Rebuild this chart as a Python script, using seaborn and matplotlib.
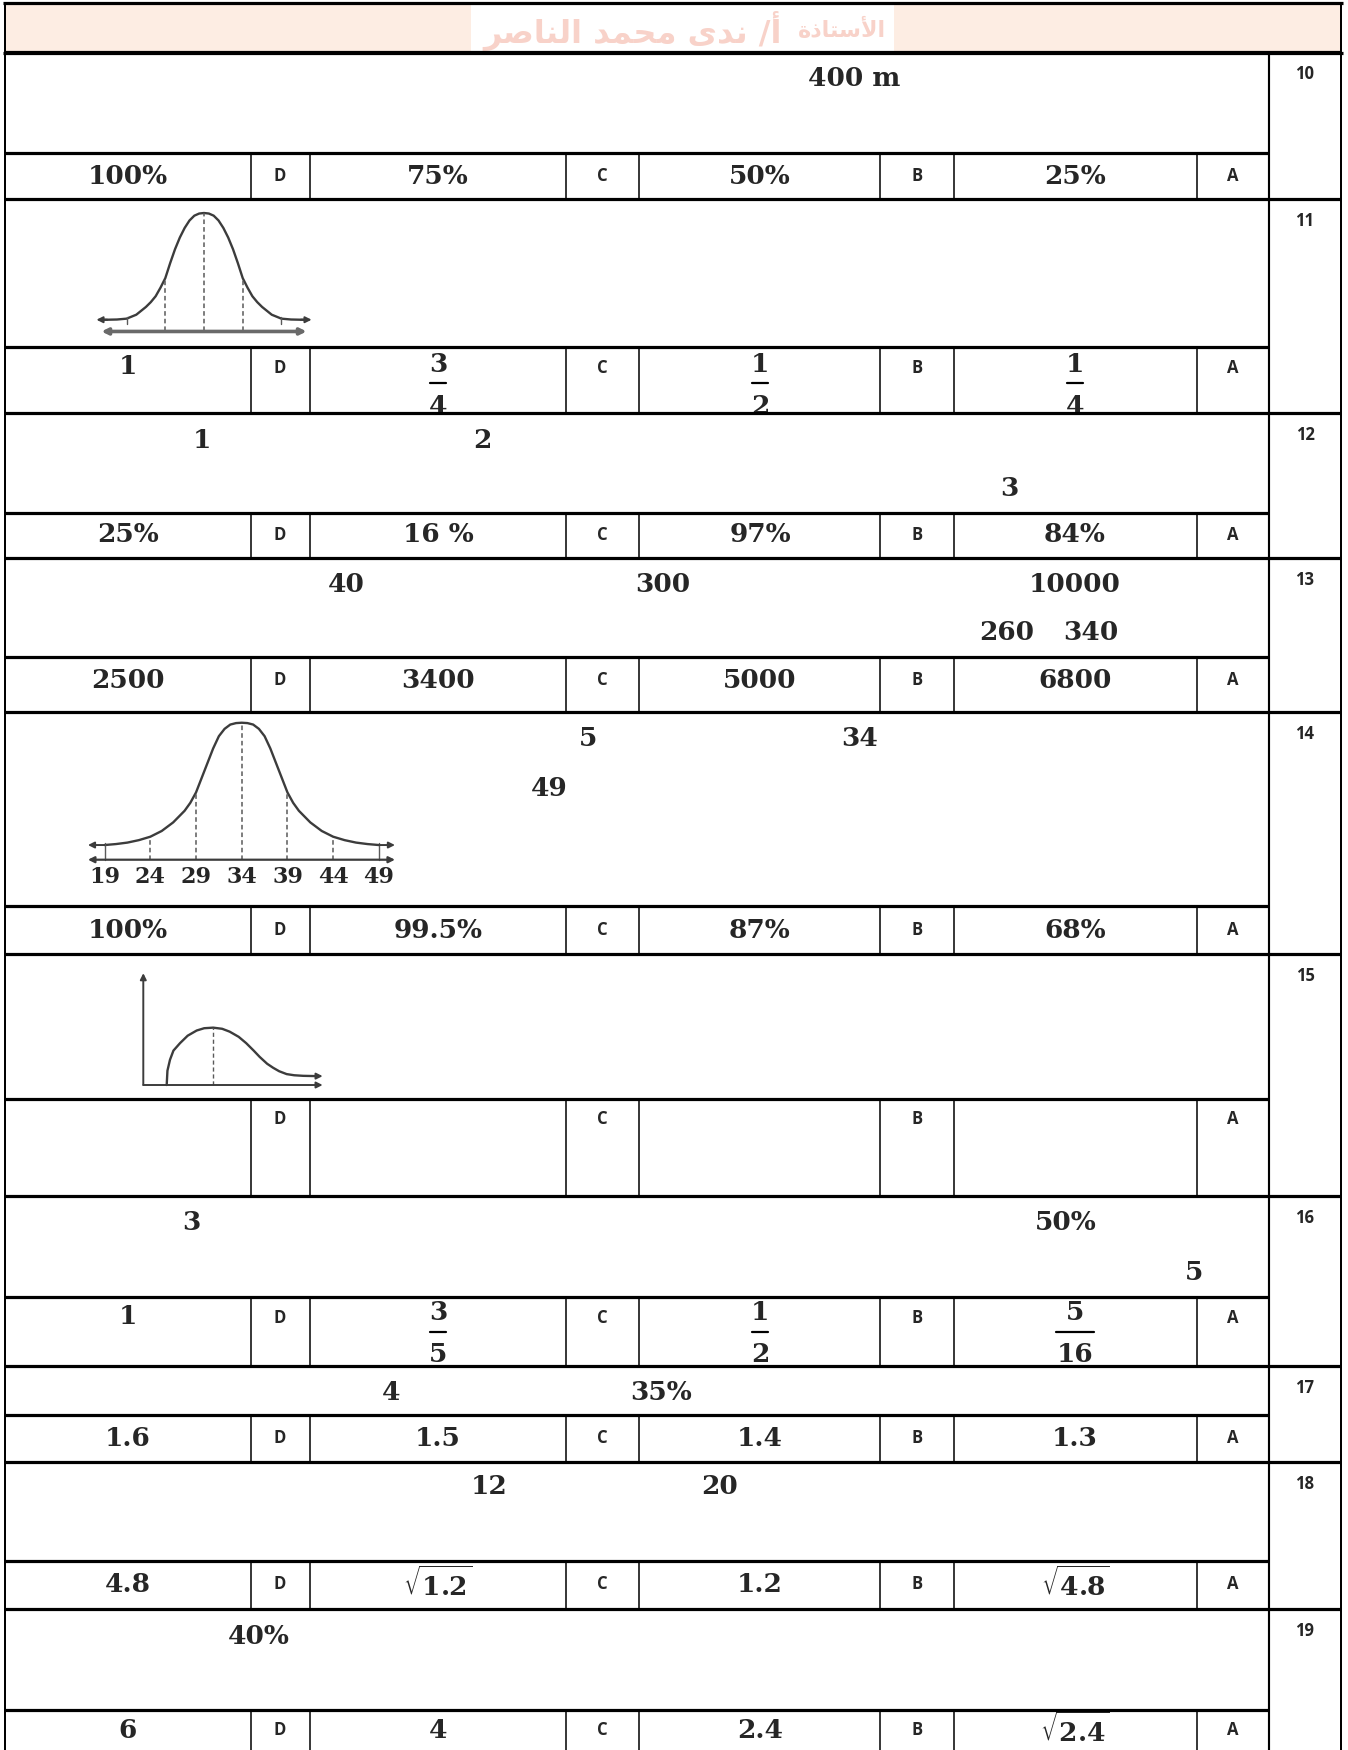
import numpy as np
import pandas as pd
import matplotlib
matplotlib.use("Agg")
import matplotlib.pyplot as plt
from matplotlib.patches import Rectangle
import seaborn as sns

sns.set_theme(style="white")
plt.rcParams["font.family"] = ["DejaVu Serif"]
plt.rcParams["mathtext.fontset"] = "dejavuserif"

# ---------------- data ----------------
question_numbers = ["10", "11", "12", "13", "14", "15", "16", "17", "18", "19"]
answer_letters = ["D", "C", "B", "A"]

ans_10 = ["100%", "75%", "50%", "25%"]
ans_11 = ["1", "3/4", "1/2", "1/4"]
ans_12 = ["25%", "16 %", "97%", "84%"]
ans_13 = ["2500", "3400", "5000", "6800"]
ans_14 = ["100%", "99.5%", "87%", "68%"]
ans_15 = ["", "", "", ""]
ans_16 = ["1", "3/5", "1/2", "5/16"]
ans_17 = ["1.6", "1.5", "1.4", "1.3"]
ans_18 = ["4.8", "√1.2", "1.2", "√4.8"]
ans_19 = ["6", "4", "2.4", "√2.4"]
all_answers = [ans_10, ans_11, ans_12, ans_13, ans_14, ans_15, ans_16, ans_17, ans_18, ans_19]

# numbers that remain visible inside the question texts
q_texts = ["400 m", "1", "2", "3", "40", "300", "10000", "260", "340",
           "5", "34", "49", "3", "50%", "5", "4", "35%", "12", "20", "40%"]

# header (Arabic, written in presentation forms, visual order)
title_main = "\ufeae\ufebb\ufe8e\ufee8\ufedf\ufe8d \ufeaa\ufee4\ufea4\ufee3 \ufeef\ufeaa\ufee7 /\ufe83"
title_prefix = "\ufe93\ufeab\ufe8e\ufe98\ufeb3\ufef7\ufe8d"

# bell curve of question 11 (x in standard deviations, relative height)
bell11_x = [-2.65, -2.5, -2.25, -2.0, -1.75, -1.5, -1.375, -1.25, -1.125, -1.0, -0.875, -0.75,
            -0.625, -0.5, -0.375, -0.25, -0.125, 0.0, 0.125, 0.25, 0.375, 0.5, 0.625, 0.75,
            0.875, 1.0, 1.125, 1.25, 1.375, 1.5, 1.75, 2.0, 2.25, 2.5, 2.65]
bell11_y = [0.0, 0.0, 0.002, 0.01, 0.047, 0.12, 0.165, 0.22, 0.30, 0.39, 0.53, 0.66,
            0.77, 0.86, 0.93, 0.975, 0.995, 1.0, 0.995, 0.975, 0.93, 0.86, 0.77, 0.66,
            0.53, 0.39, 0.30, 0.22, 0.165, 0.12, 0.047, 0.01, 0.002, 0.0, 0.0]

# bell curve of question 14 (x in data values)
bell14_x = [19, 20.25, 21.5, 22.75, 24, 25.25, 26.5, 27.75, 28.375, 29, 29.625, 30.25, 30.875,
            31.5, 32.125, 32.75, 33.375, 34, 34.625, 35.25, 35.875, 36.5, 37.125, 37.75, 38.375,
            39, 39.625, 40.25, 41.5, 42.75, 44, 45.25, 46.5, 47.75, 49]
bell14_y = [0.0, 0.008, 0.02, 0.04, 0.068, 0.115, 0.185, 0.28, 0.345, 0.43, 0.55, 0.67, 0.79,
            0.89, 0.95, 0.985, 0.997, 1.0, 0.997, 0.985, 0.95, 0.89, 0.79, 0.67, 0.55,
            0.43, 0.345, 0.28, 0.185, 0.115, 0.068, 0.04, 0.02, 0.008, 0.0]
bell14_ticks = [19, 24, 29, 34, 39, 44, 49]

# skewed curve of question 15
skew_x = [0.0, 0.05, 0.22, 0.45, 0.89, 1.4, 2.0, 2.5, 3.1, 3.7, 4.2, 4.8, 5.3, 5.8, 6.2,
          6.7, 7.1, 7.5, 8.0, 8.5, 9.1, 10.0]
skew_y = [0.0, 0.25, 0.44, 0.60, 0.73, 0.86, 0.95, 0.99, 1.0, 0.98, 0.93, 0.84, 0.73, 0.60,
          0.49, 0.37, 0.30, 0.24, 0.19, 0.17, 0.16, 0.155]

# ---------------- layout ----------------
W, H = 1348, 1750
q_top = [52, 199, 413, 558, 712, 954, 1196, 1366, 1462, 1609]
a_top = [153, 347, 513, 657, 906, 1099, 1297, 1415, 1561, 1710]
a_bot = q_top[1:] + [1750]
col_x = [5, 251, 310, 566, 639, 880, 954, 1197, 1269, 1341]
val_cx = [128, 438, 760, 1075]
let_cx = [280, 602, 917, 1233]
num_cx = 1305
ans_y = [176, 367, 535, 680, 930, 1119, 1316, 1438, 1584, 1730]
let_y = [176, 368, 535, 680, 930, 1119, 1318, 1438, 1584, 1730]
q_pos = [(854, 79), (202, 440), (482, 440), (1009, 489), (346, 585), (663, 585),
         (1075, 585), (1007, 633), (1091, 633), (588, 739), (860, 739), (549, 788),
         (191, 1223), (1066, 1223), (1194, 1272), (391, 1392), (661, 1392),
         (489, 1487), (720, 1487), (259, 1636)]

LINE = "#000000"
THICK = 2.3
THIN = 1.1
VAL_FS = 19
LET_FS = 12

fig = plt.figure(figsize=(13.48, 17.5), dpi=100, facecolor="white")
ax = fig.add_axes([0, 0, 1, 1])
ax.set_xlim(0, W)
ax.set_ylim(H, 0)
ax.axis("off")

# header
ax.add_patch(Rectangle((5, 4), 1336, 49, facecolor="#FDEDE3", edgecolor="none", zorder=1))
ax.add_patch(Rectangle((471, 4), 423, 49, facecolor="white", edgecolor="none", zorder=2))
ax.text(633, 31, title_main, fontsize=23, fontweight="bold", family="DejaVu Sans",
        color="#F8D2C9", ha="center", va="center", zorder=3)
ax.text(842, 30, title_prefix, fontsize=16, fontweight="bold",
        family=["DejaVu Sans Condensed", "DejaVu Sans"],
        color="#F8D2C9", ha="center", va="center", zorder=3)
ax.hlines([3, 53], 3, 1343, color=LINE, lw=THICK, zorder=5)

# borders
ax.vlines([5, 1341], 3, H, color=LINE, lw=THIN * 1.3, zorder=5)
ax.vlines([1269], 53, H, color=LINE, lw=THIN * 1.4, zorder=5)

def clip_rect(x0, y0, x1, y1):
    return Rectangle((x0, y0), x1 - x0, y1 - y0, transform=ax.transData)

def draw_value(x, y, s, cell):
    if s == "":
        return
    if "/" in s:
        n, d = s.split("/")
        t1 = ax.text(x, y - 3, n, fontsize=VAL_FS, fontweight="bold", ha="center", va="center", zorder=4)
        t2 = ax.text(x, y + 39, d, fontsize=VAL_FS, fontweight="bold", ha="center", va="center", zorder=4)
        for t in (t1, t2):
            t.set_clip_path(clip_rect(*cell))
        half = 8 if len(d) == 1 else 19
        ax.plot([x - half, x + half], [y + 16, y + 16], color="black", lw=1.6, zorder=4)
    elif s.startswith("√"):
        ax.text(x, y, r"$\sqrt{\mathbf{%s}}$" % s[1:], fontsize=VAL_FS, ha="center",
                va="center", zorder=4)
    else:
        ax.text(x, y, s, fontsize=VAL_FS, fontweight="bold", ha="center", va="center", zorder=4)

for i, qn in enumerate(question_numbers):
    ax.hlines(q_top[i], 5, 1341, color=LINE, lw=THICK, zorder=5)
    ax.hlines(a_top[i], 5, 1269, color=LINE, lw=THICK, zorder=5)
    ax.vlines(col_x[1:8], a_top[i], a_bot[i], color=LINE, lw=THIN, zorder=5)
    ax.text(num_cx, q_top[i] + 22, qn, fontsize=LET_FS, fontweight="bold",
            family="Open Sans", ha="center", va="center", zorder=4)
    for j in range(4):
        ax.text(let_cx[j], let_y[i], answer_letters[j], fontsize=LET_FS, fontweight="bold",
                family="Open Sans", ha="center", va="center", zorder=4)
        cell = (col_x[2 * j], a_top[i] + 2, col_x[2 * j + 1], a_bot[i] - 1)
        draw_value(val_cx[j], ans_y[i], all_answers[i][j], cell)

for s, (x, y) in zip(q_texts, q_pos):
    ax.text(x, y, s, fontsize=VAL_FS, fontweight="bold", ha="center", va="center", zorder=4)


def inset(x0, y0, x1, y1):
    a = fig.add_axes([x0 / W, 1 - y1 / H, (x1 - x0) / W, (y1 - y0) / H])
    a.set_facecolor("none")
    a.axis("off")
    return a

CURVE = "#3c3c3c"
GRAY = "#5a5a5a"
arrow_kw = dict(arrowstyle="-|>", color=CURVE, lw=1.4, mutation_scale=9, shrinkA=0, shrinkB=0)

# ---- question 11 bell curve ----
a11 = inset(95, 205, 315, 340)
a11.set_xlim(-2.817, 2.868)
a11.set_ylim(-0.19, 1.075)
sns.lineplot(x=bell11_x, y=bell11_y, ax=a11, color=CURVE, linewidth=1.7, sort=False, estimator=None)
yax11 = -0.11
for u in [-1.0, 0.0, 1.0]:
    h = bell11_y[bell11_x.index(u)]
    a11.plot([u, u], [yax11, h], color=GRAY, lw=1.1, ls=(0, (3, 2)))
for u in [-2.0, 2.0]:
    h = bell11_y[bell11_x.index(u)]
    a11.plot([u, u], [h - 0.05, h + 0.02], color=GRAY, lw=1.0)
a11.annotate("", xy=(-2.65, yax11), xytext=(2.65, yax11),
             arrowprops=dict(arrowstyle="<|-|>", color="#6a6a6a", lw=2.6, mutation_scale=9,
                             shrinkA=0, shrinkB=0))
a11.annotate("", xy=(-2.78, bell11_y[0]), xytext=(-2.5, bell11_y[0]), arrowprops=arrow_kw)
a11.annotate("", xy=(2.78, bell11_y[-1]), xytext=(2.5, bell11_y[-1]), arrowprops=arrow_kw)

# ---- question 14 bell curve ----
a14 = inset(80, 716, 400, 892)
a14.set_xlim(16.31, 51.31)
a14.set_ylim(-0.384, 1.055)
sns.lineplot(x=bell14_x, y=bell14_y, ax=a14, color=CURVE, linewidth=1.7, sort=False, estimator=None)
yax14 = -0.12
for v in bell14_ticks:
    h = bell14_y[bell14_x.index(v)]
    if v in (19, 49):
        a14.plot([v, v], [yax14, h + 0.02], color=GRAY, lw=1.0)
    else:
        a14.plot([v, v], [yax14, h], color=GRAY, lw=1.1, ls=(0, (3, 2)))
    a14.text(v, -0.26, str(v), fontsize=16, fontweight="bold", ha="center", va="center")
a14.annotate("", xy=(17.18, yax14), xytext=(50.76, yax14),
             arrowprops=dict(arrowstyle="<|-|>", color=CURVE, lw=1.6, mutation_scale=9,
                             shrinkA=0, shrinkB=0))
a14.annotate("", xy=(17.18, 0.0), xytext=(19, 0.0), arrowprops=arrow_kw)
a14.annotate("", xy=(50.76, 0.0), xytext=(49, 0.0), arrowprops=arrow_kw)

# ---- question 15 skewed curve ----
a15 = inset(140, 968, 330, 1092)
a15.set_xlim(-1.78, 10.89)
a15.set_ylim(-0.122, 2.04)
sns.lineplot(x=skew_x, y=skew_y, ax=a15, color=CURVE, linewidth=1.7, sort=False, estimator=None)
a15.plot([3.1, 3.1], [0, 1.0], color=GRAY, lw=1.0, ls=(0, (3, 2)))
a15.annotate("", xy=(-1.56, 1.95), xytext=(-1.56, 0), arrowprops=arrow_kw)
a15.annotate("", xy=(10.4, 0), xytext=(-1.56, 0), arrowprops=arrow_kw)
a15.annotate("", xy=(10.4, skew_y[-1]), xytext=(10.0, skew_y[-1]), arrowprops=arrow_kw)

fig.savefig("out.png", dpi=100, facecolor="white")
